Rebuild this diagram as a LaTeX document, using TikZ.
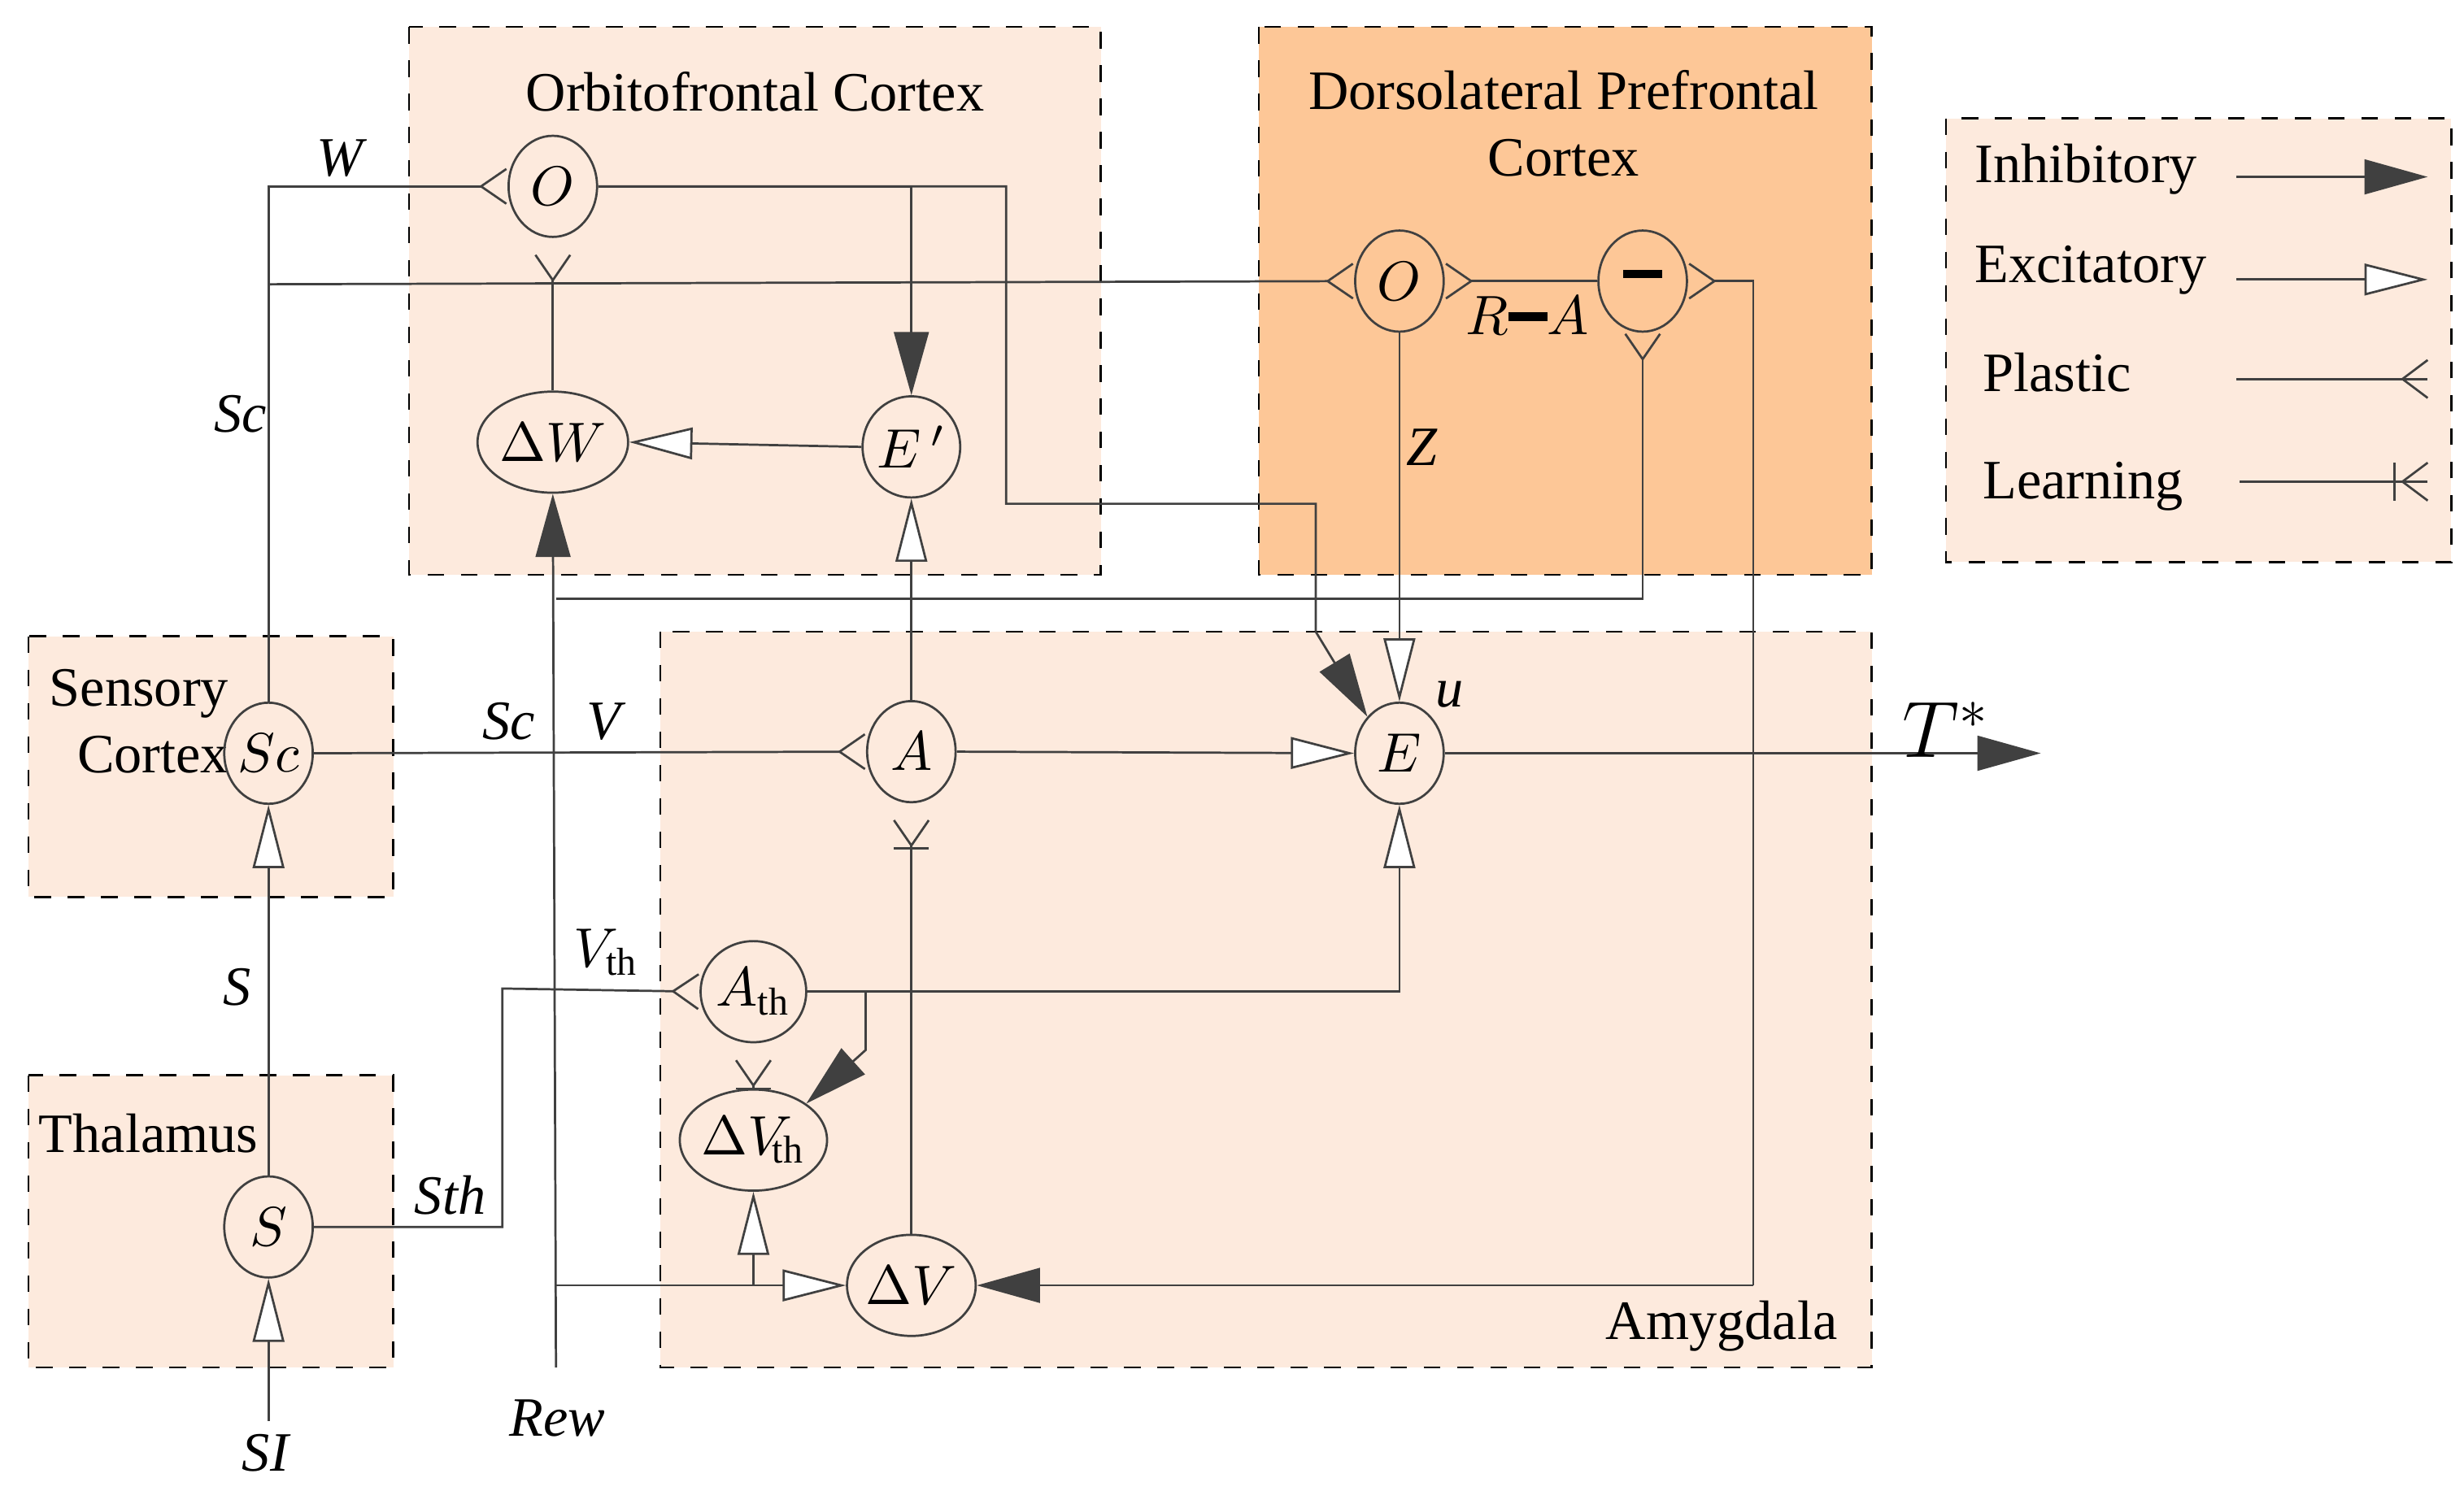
\documentclass[tikz,border=0pt]{standalone}
\usepackage{fontspec}
\setmainfont{Liberation Serif}
\usetikzlibrary{arrows.meta,shapes.geometric}
\definecolor{lp}{HTML}{FDEADD}
\definecolor{dp}{HTML}{FDC797}
\definecolor{ln}{HTML}{404040}
\newcommand{\thickminus}{\rule[0.55ex]{0.7em}{0.15em}}
\begin{document}
\begin{tikzpicture}[x=0.01cm,y=-0.01cm,
  every node/.style={font=\fontsize{10}{12}\selectfont},
  nd/.style={draw=ln,ellipse,minimum width=0.56cm,minimum height=0.64cm,inner sep=0pt,line width=0.4pt},
  box/.style={draw=black,dashed,line width=0.4pt},
  c/.style={draw=ln,line width=0.4pt},
  inh/.style={c,-{Triangle[length=0.4cm,width=0.22cm,fill=ln]}},
  exc/.style={c,-{Triangle[open,length=0.4cm,width=0.2cm,fill=white]}},
  pla/.style={c,-{Straight Barb[reversed,length=0.16cm,width=0.22cm]}},
  lrn/.style={c,-{Bar[width=0.22cm]Straight Barb[reversed,length=0.16cm,width=0.22cm,sep=0.1cm]}},
  lab/.style={font=\fontsize{10}{12}\selectfont\itshape}]
\useasboundingbox (0,0) rectangle (1560,944);
\fill[white] (0,0) rectangle (1560,944);
% boxes
\path[box,fill=lp] (259,17) rectangle (697,364);
\path[box,fill=dp] (797,17) rectangle (1185,364);
\path[box,fill=lp] (1232,75) rectangle (1552,356);
\path[box,fill=lp] (18,403) rectangle (249,568);
\path[box,fill=lp] (18,681) rectangle (249,866);
\path[box,fill=lp] (418,400) rectangle (1185,866);
\node at (478,58) {Orbitofrontal Cortex};
\node[align=center] at (990,78) {Dorsolateral Prefrontal\\Cortex};
\node[align=center] at (88,457) {Sensory\\\ \ Cortex};
\node at (94,718) {Thalamus};
\node at (1090,840) {Amygdala};
% nodes
\node[nd] (O) at (350,118) {$O$};
\node[nd] (DW) at (350,280) {$\Delta W$};
\node[nd] (Ep) at (577,283) {$E\,'$};
\node[nd] (Od) at (886,178) {$O$};
\node[nd] (M) at (1040,178) {\thickminus};
\node[nd] (Sc) at (170,477) {$Sc$};
\node[nd] (A) at (577,476) {$A$};
\node[nd] (E) at (886,477) {$E$};
\node[nd] (Ath) at (477,628) {$A_{\mathrm{th}}$};
\node[nd] (DVth) at (477,722) {$\Delta V_{\!\mathrm{th}}$};
\node[nd] (DV) at (577,814) {$\Delta V$};
\node[nd] (S) at (170,777) {$S$};
% coordinates
\coordinate (sci) at (170,900);
\coordinate (rew) at (352,866);
\coordinate (out) at (1292,477);
% connectors
\draw[pla] (Sc.north) |- (O.west);
\draw[pla] (170,180) -- (Od.west);
\draw[lrn] (DW.north) -- (O.south);
\draw[inh] (O.east) -| (Ep.north);
\draw[inh] (O.east) -| (637,319) -| (833,400) -- (E.north west);
\draw[exc] (Ep.west) -- (DW.east);
\draw[exc] (A.north) -- (Ep.south);
\draw[inh] (rew) -- (DW.south);
\draw[pla] (352,379) -| (M.south);
\draw[exc] (352,814) -- (DV.west);
\draw[exc] (477,814) -- (DVth.south);
\draw[pla] (M.west) -- (Od.east);
\draw[exc] (Od.south) -- (E.north);
\draw[pla] (1110,814) |- (M.east);
\draw[inh] (1110,814) -- (DV.east);
\draw[pla] (Sc.east) -- (A.west);
\draw[exc] (A.east) -- (E.west);
\draw[lrn] (DV.north) -- (A.south);
\draw[exc] (Ath.east) -| (E.south);
\draw[inh] (548,628) -- (548,665) -- (DVth.north east);
\draw[pla] (S.east) -| (318,626) -- (Ath.west);
\draw[lrn] (DVth.north) -- (Ath.south);
\draw[exc] (S.north) -- (Sc.south);
\draw[exc] (sci) -- (S.south);
\draw[inh] (E.east) -- (out);
% labels
\node[lab] at (215,100) {W};
\node[lab] at (152,262) {Sc};
\node[lab] at (150,625) {S};
\node[lab] at (168,920) {SI};
\node[lab] at (353,898) {Rew};
\node[lab] at (322,457) {Sc};
\node[lab] at (382,457) {V};
\node at (384,603) {$V_{\mathrm{th}}$};
\node[lab] at (285,757) {Sth};
\node[lab] at (900,283) {Z};
\node at (967,200) {$R$\thickminus$A$};
\node[lab] at (918,440) {u};
\node[font=\fontsize{14}{16}\selectfont] at (1232,462) {$T^{*}$};
% legend
\node[anchor=west] at (1238,107) {Inhibitory};
\node[anchor=west] at (1238,171) {Excitatory};
\node[anchor=west] at (1243,236) {Plastic};
\node[anchor=west] at (1243,308) {Learning};
\coordinate (l1a) at (1416,112); \coordinate (l1b) at (1537,112);
\coordinate (l2a) at (1416,177); \coordinate (l2b) at (1537,177);
\coordinate (l3a) at (1416,240); \coordinate (l3b) at (1537,240);
\coordinate (l4a) at (1418,305); \coordinate (l4b) at (1537,305);
\draw[inh] (l1a) -- (l1b);
\draw[exc] (l2a) -- (l2b);
\draw[c] (l3a) -- (l3b);
\draw[c] (l4a) -- (l4b);
\draw[c] (1516,293) -- (1516,317);
\draw[c] (1537,293) -- (1521,305) -- (1537,317);
\draw[c] (1537,228) -- (1521,240) -- (1537,252);
\end{tikzpicture}
\end{document}
